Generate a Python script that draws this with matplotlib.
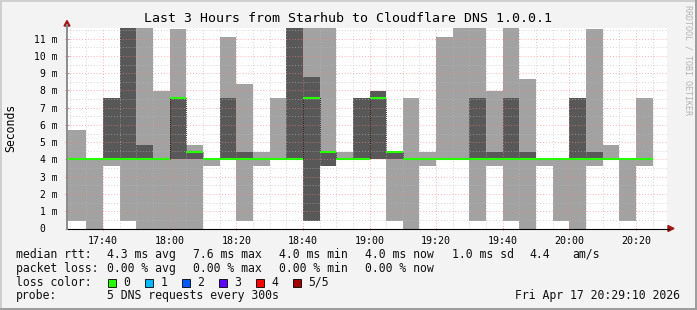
import matplotlib
matplotlib.use('Agg')
import matplotlib.pyplot as plt
from matplotlib.lines import Line2D
from matplotlib.patches import Polygon, Rectangle
from matplotlib.ticker import MultipleLocator
import numpy as np

# 5 DNS pings per 5 min step, sorted (ms); step 0 starts 17:30
p1 = [0.45, 0, 3.6, 0.45, 0, 0, 0, 0, 3.6, 4, 0.45, 3.6, 4, 4, 0.45, 3.6, 4, 4,
      4, 0.45, 0, 3.6, 4, 4, 0.45, 3.6, 0.45, 0, 3.6, 0.45, 0, 3.6, 4, 0.45, 3.6]
p2 = [4, 4, 4, 4, 4, 4, 4, 4, 4, 4, 4, 4, 4, 4, 0.45, 3.6, 4, 4,
      4, 4, 4, 4, 4, 4, 4, 4, 4, 4, 4, 4, 4, 4, 4, 4, 4]
median = [4, 4, 4, 4, 4, 4, 7.55, 4.45, 4, 4, 4, 4, 4, 4, 7.55, 4.45, 4, 4,
          7.55, 4.45, 4, 4, 4, 4, 4, 4, 4, 4, 4, 4, 4, 4, 4, 4, 4]
p4 = [4, 4, 7.55, 11.6, 4.85, 4, 7.55, 4.45, 4, 7.55, 4.45, 4, 4, 11.6, 8.8, 4.45, 4, 7.55,
      7.95, 4.45, 4, 4, 4, 4, 7.55, 4.45, 7.55, 4.45, 4, 4, 7.55, 4.45, 4, 4, 4]
p5 = [5.7, 4, 7.55, 11.6, 11.6, 7.95, 11.55, 4.85, 4, 11.1, 8.4, 4.45, 7.55, 11.6, 11.6, 11.6, 4.45, 7.55,
      7.95, 4.45, 7.55, 4.45, 11.1, 11.6, 11.6, 7.95, 11.6, 8.65, 4, 4, 7.55, 11.55, 4.85, 4, 7.55]

first_step = 30          # minutes after 17:00
step = 5
t_start, t_end = 29 + 10/60, 209 + 10/60
xticks = [40, 60, 80, 100, 120, 140, 160, 180, 200]
xlabels = ["17:40", "18:00", "18:20", "18:40", "19:00", "19:20", "19:40", "20:00", "20:20"]
yticks = list(range(12))
ylabels = ["0  "] + ["%d m" % v for v in range(1, 12)]

loss_labels = ["0", "1", "2", "3", "4", "5/5"]
loss_colors = ["#26ff00", "#00b8ff", "#0059ff", "#5e00ff", "#ff0000", "#a00000"]

W, H = 697, 310
MONO = "DejaVu Sans Mono"


def fx(x):
  return x / W


def fy(y):
  return 1 - y / H


fig = plt.figure(figsize=(W / 100, H / 100), dpi=100, facecolor="#f3f3f3")

# plot area 67..666.5 x 28..228.5 px
ax = fig.add_axes([fx(67), fy(228.5), fx(666.5) - fx(67), fy(28) - fy(228.5)])
ax.set_facecolor("white")

p1a, p2a, mda, p4a, p5a = [np.array(v, dtype=float) for v in (p1, p2, median, p4, p5)]
n = len(p1a)
starts = first_step + step * np.arange(n, dtype=float)
starts[0] = t_start
widths = first_step + step * np.arange(1, n + 1) - starts

ax.bar(starts, p5a - p1a, widths, bottom=p1a, align='edge', color="#a2a2a2", linewidth=0, zorder=1)
ax.bar(starts, p4a - p2a, widths, bottom=p2a, align='edge', color="#585858", linewidth=0, zorder=1.1)

edges = np.append(starts, starts[-1] + widths[-1])
ax.plot(edges, np.append(mda, mda[-1]), drawstyle='steps-post', color="black",
        linestyle=(0, (1, 1.5)), linewidth=0.6, zorder=2.8)
ax.hlines(mda, starts, starts + widths, color=loss_colors[0], linewidth=1.5, zorder=3)

ax.set_xlim(t_start, t_end)
ax.set_ylim(0, 11.62)
ax.set_xticks(xticks)
ax.set_xticklabels(xlabels, fontsize=7.2, family=MONO)
ax.set_yticks(yticks)
ax.set_yticklabels(ylabels, fontsize=7, family=MONO)
ax.xaxis.set_minor_locator(MultipleLocator(5))
ax.yaxis.set_minor_locator(MultipleLocator(0.5))
ax.tick_params(axis='x', which='major', length=2, width=0.7, color="#e08080", pad=4.5, direction='inout')
ax.tick_params(axis='y', which='major', length=3, width=0.7, color="#e08080", pad=5.5, direction='inout')
ax.tick_params(which='minor', length=0)
ax.set_axisbelow(False)
ax.grid(which='major', color="#ff8080", alpha=0.6, linestyle=(0, (1, 2)), linewidth=0.7)
ax.grid(which='minor', color="#b8b8b8", alpha=0.6, linestyle=(0, (1, 2)), linewidth=0.7)
for s in ax.spines.values():
  s.set_visible(False)

# axes lines and arrows
fig.add_artist(Line2D([fx(67), fx(669)], [fy(228.5), fy(228.5)], color="black", linewidth=0.8))
fig.add_artist(Line2D([fx(67), fx(67)], [fy(228.5), fy(25)], color="#8c8c8c", linewidth=1.4))
fig.add_artist(Polygon([(fx(668), fy(225.5)), (fx(674), fy(228.5)), (fx(668), fy(231.5))],
                       closed=True, color="#a01818", transform=fig.transFigure))
fig.add_artist(Polygon([(fx(64), fy(26)), (fx(67), fy(20.5)), (fx(70), fy(26))],
                       closed=True, color="#a01818", transform=fig.transFigure))

# titles
fig.text(fx(347.5), fy(18.5), "Last 3 Hours from Starhub to Cloudflare DNS 1.0.0.1",
         ha='center', va='center', fontsize=9.5, family=MONO, color="black")
fig.text(fx(10.5), fy(128), "Seconds", rotation=90, ha='center', va='center',
         fontsize=8.3, family=MONO, color="black")
fig.text(fx(688), fy(5), "RRDTOOL / TOBI OETIKER", rotation=-90, ha='center', va='top',
         fontsize=6, family=MONO, color="#b4b4b4")

# legend block
fs = 8.3
rows = [
  (254.3, [(16, "median rtt:"), (107.3, "4.3 ms avg"), (193.3, "7.6 ms max"), (279, "4.0 ms min"),
           (365, "4.0 ms now"), (452.3, "1.0 ms sd"), (529, "4.4"), (572.3, "am/s")]),
  (268.3, [(16, "packet loss:"), (107.3, "0.00 % avg"), (193.3, "0.00 % max"), (279, "0.00 % min"),
           (365, "0.00 % now")]),
  (282.3, [(16, "loss color:")]),
  (296, [(16, "probe:"), (107.3, "5 DNS requests every 300s")]),
]
for y, items in rows:
  for x, s in items:
    fig.text(fx(x), fy(y), s, ha='left', va='center', fontsize=fs, family=MONO, color="#111111")
fig.text(fx(680), fy(296), "Fri Apr 17 20:29:10 2026", ha='right', va='center',
         fontsize=fs, family=MONO, color="#111111")

for i, (lab, col) in enumerate(zip(loss_labels, loss_colors)):
  bx = 108.3 + 37 * i
  fig.add_artist(Rectangle((fx(bx), fy(287)), 8 / W, 8 / H, facecolor=col, edgecolor="black",
                           linewidth=0.6, transform=fig.transFigure))
  fig.text(fx(bx + 15), fy(282.3), lab, ha='left', va='center', fontsize=fs, family=MONO, color="#111111")

# frame
fig.add_artist(Line2D([0, 1], [fy(0.7), fy(0.7)], color="#cfcfcf", linewidth=1.4))
fig.add_artist(Line2D([fx(0.7), fx(0.7)], [0, 1], color="#cfcfcf", linewidth=1.4))
fig.add_artist(Line2D([0, 1], [fy(309.2), fy(309.2)], color="#9c9c9c", linewidth=1.4))
fig.add_artist(Line2D([fx(696.2), fx(696.2)], [0, 1], color="#9c9c9c", linewidth=1.4))

fig.savefig("out.png", dpi=100, facecolor=fig.get_facecolor())
